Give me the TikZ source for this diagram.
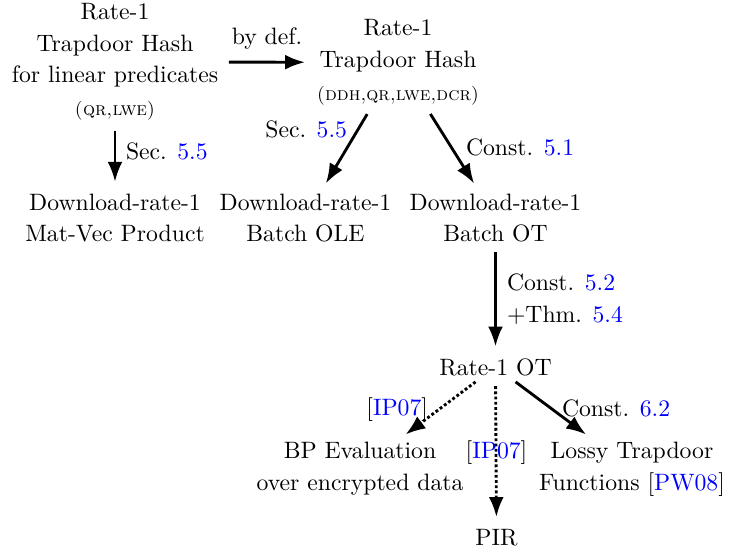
\documentclass[tikz,border=0pt]{standalone}
\usetikzlibrary{arrows.meta}
\newcommand\bluref[1]{{\color{blue}#1}}
\begin{document}
\begin{tikzpicture}[x=0.4219pt,y=-0.4219pt,
  every node/.style={inner sep=0pt, outer sep=0pt, align=center},
  arr/.style={-{Latex}, line width=1.2pt, shorten <=4.5pt, shorten >=5pt},
  dotarr/.style={arr, dash pattern=on 1.2pt off 1pt}]
\path[use as bounding box] (0,0) rectangle (733,552);

% main results
\node[anchor=north] (lth) at (115,3.8) {Rate-1\\[1.1pt] Trapdoor Hash\\[1.1pt] for linear predicates\\[2pt] {\footnotesize\textsc{(qr,lwe)}}};
\node[anchor=north] (th) at (398,19.8) {Rate-1\\[1.1pt] Trapdoor Hash\\[2pt] {\footnotesize\textsc{(ddh,qr,lwe,dcr)}}};
\node[anchor=north] (mv) at (115,193.6) {Download-rate-1\\[1.1pt] Mat-Vec Product};
\node[anchor=north] (ole) at (305.5,193.6) {Download-rate-1\\[1.1pt] Batch OLE};
\node[anchor=north] (bot) at (495.5,193.6) {Download-rate-1\\[1.1pt] Batch OT};
\node[anchor=base] (rot) at (495.5,375) {Rate-1 OT};
\node[anchor=north] (bp) at (360,441.6) {BP Evaluation\\[1.9pt] over encrypted data};
\node[anchor=north] (ltf) at (632,441.6) {Lossy Trapdoor\\[1.5pt] Functions [\bluref{PW08}]};
\node[anchor=base] (pir) at (496.5,545) {PIR};

% edge labels
\node[anchor=base] (bydef) at (267,45) {by def.};
\node[anchor=base west] (s1) at (126,160) {Sec. \bluref{5.5}};
\node[anchor=base east] (s2) at (347,138) {Sec. \bluref{5.5}};
\node[anchor=base west] (c51) at (466,156) {Const. \bluref{5.1}};
\node[anchor=base west] (c52) at (507,290) {Const. \bluref{5.2}};
\node[anchor=base west] (t54) at (507,322) {+Thm. \bluref{5.4}};
\node[anchor=base east] (ip1) at (428,415) {[\bluref{IP07}]};
\node[anchor=base] (ip2) at (496.5,458) {[\bluref{IP07}]};
\node[anchor=base west] (c62) at (562,416) {Const. \bluref{6.2}};

% implications
\draw[arr] (lth) -- (th);
\draw[arr] (lth) -- (mv);
\draw[arr] (th) -- (ole);
\draw[arr] (th) -- (bot);
\draw[arr] (bot) -- (rot);
\draw[dotarr] (rot) -- (bp);
\draw[dotarr] (rot) -- (pir);
\draw[arr] (rot) -- (ltf);
\end{tikzpicture}
\end{document}
